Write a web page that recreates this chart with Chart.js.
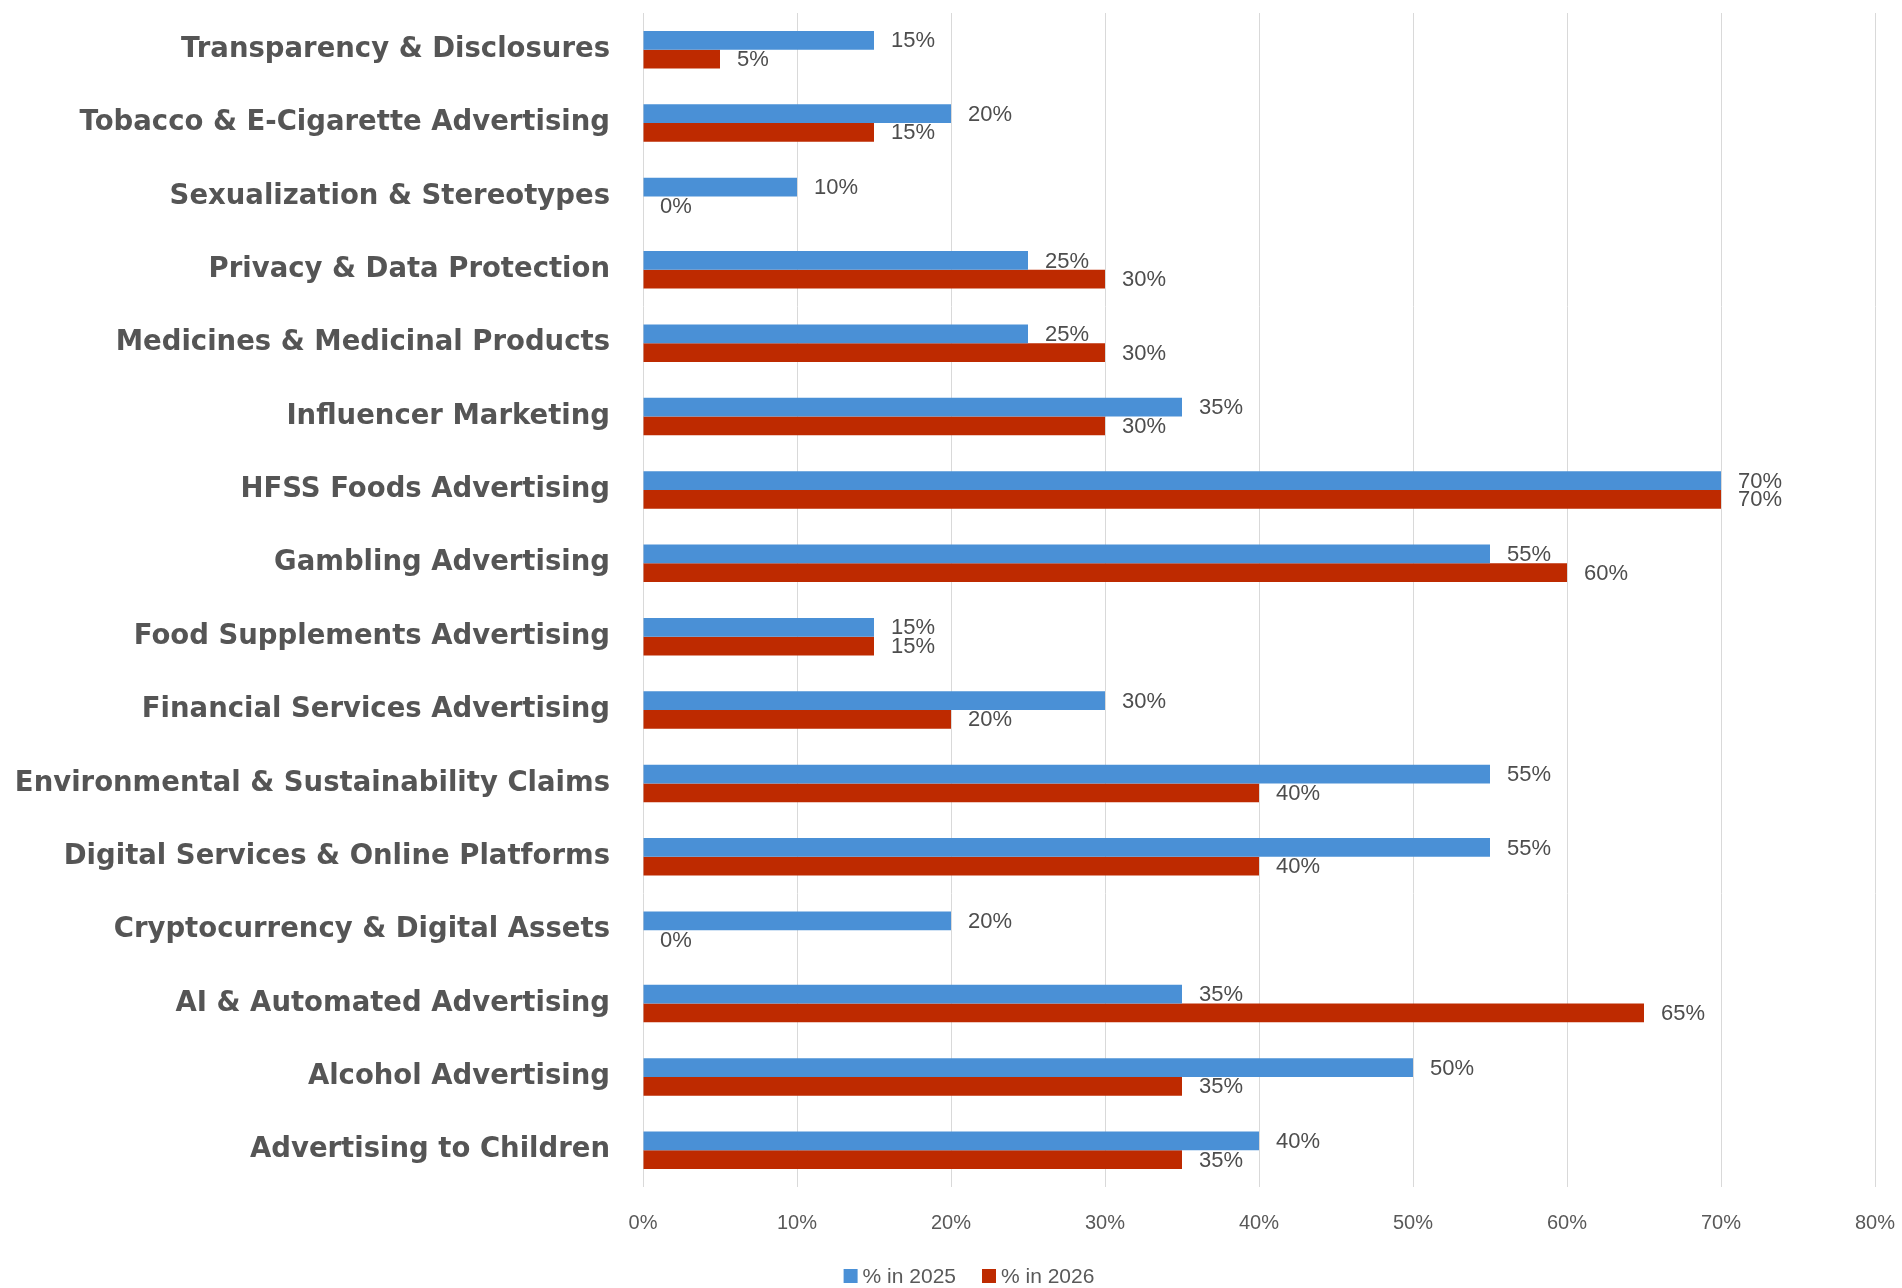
<!DOCTYPE html>
<html>
<head>
<meta charset="utf-8">
<script src="https://cdn.jsdelivr.net/npm/chart.js@4.4.1/dist/chart.umd.min.js"></script>
<style>
  html, body { margin: 0; padding: 0; background: #fff; }
  #wrap { width: 1902px; height: 1288px; position: relative; }
</style>
</head>
<body>
<div id="wrap"><canvas id="chart"></canvas></div>
<script>
const categories = [
  'Transparency & Disclosures',
  'Tobacco & E-Cigarette Advertising',
  'Sexualization & Stereotypes',
  'Privacy & Data Protection',
  'Medicines & Medicinal Products',
  'Influencer Marketing',
  'HFSS Foods Advertising',
  'Gambling Advertising',
  'Food Supplements Advertising',
  'Financial Services Advertising',
  'Environmental & Sustainability Claims',
  'Digital Services & Online Platforms',
  'Cryptocurrency & Digital Assets',
  'AI & Automated Advertising',
  'Alcohol Advertising',
  'Advertising to Children'
];
const pct2025 = [15, 20, 10, 25, 25, 35, 70, 55, 15, 30, 55, 55, 20, 35, 50, 40];
const pct2026 = [5, 15, 0, 30, 30, 30, 70, 60, 15, 20, 40, 40, 0, 65, 35, 35];
const seriesNames = ['% in 2025', '% in 2026'];
const seriesColors = ['#4A90D6', '#BE2A00'];

// value labels right of each bar
const barLabels = {
  id: 'barLabels',
  afterDatasetsDraw(chart) {
    const ctx = chart.ctx;
    ctx.save();
    ctx.font = '22px "Liberation Sans", Arial, sans-serif';
    ctx.fillStyle = '#4d4d4d';
    ctx.textAlign = 'left';
    ctx.textBaseline = 'middle';
    chart.data.datasets.forEach((ds, i) => {
      chart.getDatasetMeta(i).data.forEach((bar, j) => {
        ctx.fillText(ds.data[j] + '%', bar.x + 17, bar.y + 1);
      });
    });
    ctx.restore();
  }
};

// small legend under the chart
const bottomLegend = {
  id: 'bottomLegend',
  afterDraw(chart) {
    const ctx = chart.ctx;
    ctx.save();
    ctx.font = '21px "Liberation Sans", Arial, sans-serif';
    ctx.textBaseline = 'middle';
    const box = 14, gap = 5, spacing = 26;
    const widths = seriesNames.map(n => box + gap + ctx.measureText(n).width);
    const total = widths.reduce((a, b) => a + b, 0) + spacing * (widths.length - 1);
    let x = chart.width / 2 + 18 - total / 2;
    const y = 1276;
    seriesNames.forEach((n, i) => {
      ctx.fillStyle = seriesColors[i];
      ctx.fillRect(x, y - box / 2, box, box);
      ctx.fillStyle = '#595959';
      ctx.fillText(n, x + box + gap, y + 1);
      x += widths[i] + spacing;
    });
    ctx.restore();
  }
};

new Chart(document.getElementById('chart'), {
  type: 'bar',
  data: {
    labels: categories,
    datasets: [
      { label: seriesNames[0], data: pct2025, backgroundColor: seriesColors[0] },
      { label: seriesNames[1], data: pct2026, backgroundColor: seriesColors[1] }
    ]
  },
  options: {
    indexAxis: 'y',
    responsive: true,
    maintainAspectRatio: false,
    animation: false,
    categoryPercentage: 0.51,
    barPercentage: 1,
    layout: { padding: { top: 13, right: 27, bottom: 0, left: 0 } },
    plugins: {
      legend: { display: false },
      tooltip: { enabled: false }
    },
    scales: {
      x: {
        min: 0,
        max: 80,
        ticks: {
          stepSize: 10,
          padding: 24,
          color: '#595959',
          font: { family: '"Liberation Sans", Arial, sans-serif', size: 20 },
          callback: v => v + '%'
        },
        grid: { color: '#d9d9d9', lineWidth: 1, drawTicks: false },
        border: { display: false },
        afterFit: s => { s.height = 101; s.paddingLeft = 0; s.paddingRight = 0; }
      },
      y: {
        ticks: {
          padding: 33,
          color: '#555555',
          font: { family: '"DejaVu Sans", sans-serif', size: 27.5, weight: 'bold' }
        },
        grid: { display: false, drawTicks: false },
        border: { display: false },
        afterFit: s => { s.width = 643; s.paddingTop = 0; s.paddingBottom = 0; }
      }
    }
  },
  plugins: [barLabels, bottomLegend]
});
</script>
</body>
</html>
